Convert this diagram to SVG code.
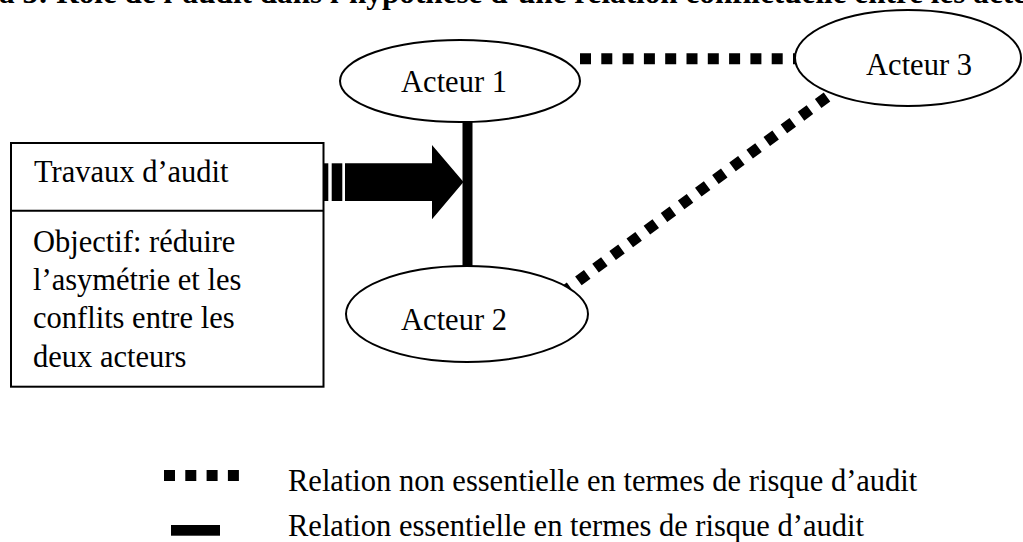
<svg xmlns="http://www.w3.org/2000/svg" width="1023" height="542" viewBox="0 0 1023 542">
<style>
text{font-family:"Liberation Serif","Times New Roman",serif;font-size:30.5px;fill:#000}
.cap{font-weight:bold;font-size:31.2px}
.node{fill:#fff;stroke:#000;stroke-width:2}
.dot{fill:none;stroke:#000;stroke-width:11;stroke-dasharray:11 10.3}
.solid{fill:none;stroke:#000;stroke-width:10}
</style>
<rect width="1023" height="542" fill="#fff"/>
<text class="cap" x="-1" y="3">a 3: Rôle de l’audit dans l’hypothèse d’une relation conflictuelle entre les acteurs</text>
<g id="connectors">
<line class="dot" x1="580" y1="58.7" x2="796" y2="58.7"/>
<line class="dot" x1="827" y1="97" x2="566" y2="290"/>
<line class="solid" x1="467.5" y1="121" x2="467.5" y2="266"/>
<g id="arrow">
<rect x="323.3" y="163.3" width="5" height="37.7"/>
<rect x="331.7" y="163.3" width="10.6" height="37.7"/>
<polygon points="345,163.3 432,163.3 432,145 463.5,182 432,219.3 432,201 345,201"/>
</g>
</g>
<g id="acteur1">
<ellipse class="node" cx="460" cy="81" rx="120" ry="41"/>
<text x="454" y="92" text-anchor="middle">Acteur 1</text>
</g>
<g id="acteur3">
<ellipse class="node" cx="908" cy="58" rx="113" ry="48"/>
<text x="919" y="75" text-anchor="middle">Acteur 3</text>
</g>
<g id="acteur2">
<ellipse class="node" cx="467" cy="314" rx="121" ry="48"/>
<text x="454" y="330" text-anchor="middle">Acteur 2</text>
</g>
<g id="travaux">
<rect class="node" x="11" y="143" width="312.5" height="243.7"/>
<line x1="11" y1="210.7" x2="323.5" y2="210.7" stroke="#000" stroke-width="2"/>
<text x="34" y="182">Travaux d’audit</text>
<text x="33" y="251.7">Objectif: réduire</text>
<text x="33" y="290">l’asymétrie et les</text>
<text x="33" y="328.3">conflits entre les</text>
<text x="33" y="366.6">deux acteurs</text>
</g>
<g id="legend">
<line class="dot" x1="164" y1="475.5" x2="239" y2="475.5"/>
<rect x="171" y="525" width="49" height="10.7"/>
<text x="288" y="491">Relation non essentielle en termes de risque d’audit</text>
<text x="288" y="536">Relation essentielle en termes de risque d’audit</text>
</g>
</svg>
